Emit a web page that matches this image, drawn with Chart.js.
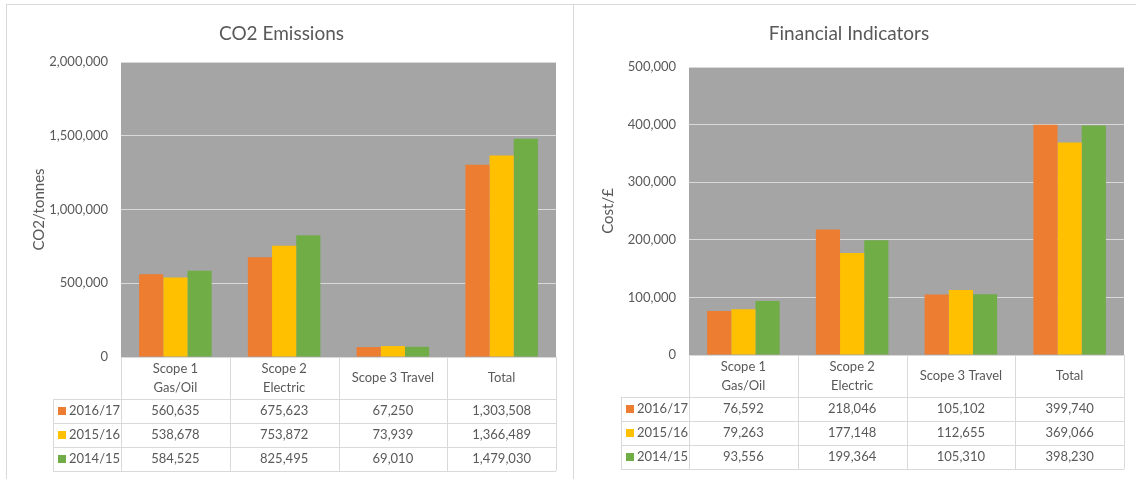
<!DOCTYPE html>
<html>
<head>
<meta charset="utf-8">
<script src="https://cdn.jsdelivr.net/npm/chart.js@4.4.1/dist/chart.umd.min.js"></script>
<style>
  html, body { margin: 0; padding: 0; background: #fff; }
  body { width: 1136px; height: 479px; position: relative; overflow: hidden; }
  .panel { position: absolute; top: 4px; height: 480px; border: 1px solid #d9d9d9; box-sizing: border-box; }
  .wrap { position: absolute; top: 5px; height: 474px; }
</style>
</head>
<body>
<div class="panel" style="left:6px; width:568px;"></div>
<div class="panel" style="left:573px; width:570px;"></div>
<div class="wrap" style="left:7px; width:566px;"><canvas id="co2"></canvas></div>
<div class="wrap" style="left:574px; width:562px;"><canvas id="cost"></canvas></div>

<script>
const categories = [['Scope 1', 'Gas/Oil'], ['Scope 2', 'Electric'], 'Scope 3 Travel', 'Total'];
const years = ['2016/17', '2015/16', '2014/15'];
const yearColors = ['#ED7D31', '#FFC000', '#70AD47'];

// CO2 emissions (tonnes)
const co2_1617 = [560635, 675623, 67250, 1303508];
const co2_1516 = [538678, 753872, 73939, 1366489];
const co2_1415 = [584525, 825495, 69010, 1479030];
const co2Axis = [0, 2000000, 500000]; // min, max, step

// Financial indicators (£)
const cost_1617 = [76592, 218046, 105102, 399740];
const cost_1516 = [79263, 177148, 112655, 369066];
const cost_1415 = [93556, 199364, 105310, 398230];
const costAxis = [0, 500000, 100000];

Chart.defaults.font.family = 'Lato, sans-serif';
Chart.defaults.color = '#595959';

const fmt = (v) => Number(v).toLocaleString('en-US');

// grey plot area like the Excel original
const plotBgPlugin = {
  id: 'plotBg',
  beforeDraw(chart) {
    const { ctx, chartArea: { left, top, width, height } } = chart;
    ctx.save();
    ctx.fillStyle = '#A5A5A5';
    ctx.fillRect(left, top, width, height);
    ctx.restore();
  },
};

// data table under the chart (header + one row per series)
const dataTablePlugin = {
  id: 'dataTable',
  afterDraw(chart, args, opts) {
    const { ctx, chartArea: { left, right, bottom }, scales: { x } } = chart;
    const labels = chart.data.labels;
    const datasets = chart.data.datasets;
    const colW = (right - left) / labels.length;
    const headH = opts.headerHeight;
    const rowH = opts.rowHeight;
    const legL = opts.legendLeft;
    const tableBottom = bottom + headH + rowH * datasets.length;
    const r = (v) => Math.round(v) + 0.5;
    const line = (x1, y1, x2, y2) => { ctx.beginPath(); ctx.moveTo(x1, y1); ctx.lineTo(x2, y2); ctx.stroke(); };

    ctx.save();
    ctx.strokeStyle = '#D9D9D9';
    ctx.lineWidth = 1;
    line(left, r(bottom), right, r(bottom));
    for (let i = 0; i <= datasets.length; i++) {
      const yy = r(bottom + headH + i * rowH);
      line(legL, yy, right, yy);
    }
    for (let i = 0; i <= labels.length; i++) {
      const xx = r(left + i * colW);
      line(xx, bottom, xx, tableBottom);
    }
    line(r(legL), bottom + headH, r(legL), tableBottom);

    ctx.fillStyle = '#595959';
    ctx.font = '13px Lato, sans-serif';
    ctx.textAlign = 'center';
    ctx.textBaseline = 'middle';
    labels.forEach((lab, i) => {
      const cx = x.getPixelForValue(i);
      const lines = Array.isArray(lab) ? lab : [lab];
      const cy = bottom + headH / 2;
      lines.forEach((t, j) => ctx.fillText(t, cx, cy + (j - (lines.length - 1) / 2) * 19));
      datasets.forEach((ds, k) => {
        ctx.fillText(fmt(ds.data[i]), cx, bottom + headH + rowH * k + rowH / 2);
      });
    });

    ctx.textAlign = 'left';
    datasets.forEach((ds, k) => {
      const cy = bottom + headH + rowH * k + rowH / 2;
      ctx.fillStyle = ds.backgroundColor;
      ctx.fillRect(legL + 5, Math.round(cy - 4), 8, 8);
      ctx.fillStyle = '#595959';
      ctx.fillText(ds.label, legL + 16, cy);
    });
    ctx.restore();
  },
};

function renderBarTable(canvasId, title, yTitle, series, axis, lay) {
  const ctx = document.getElementById(canvasId).getContext('2d');
  return new Chart(ctx, {
    type: 'bar',
    plugins: [plotBgPlugin, dataTablePlugin],
    data: {
      labels: categories,
      datasets: series.map((data, i) => ({
        label: years[i],
        data,
        backgroundColor: yearColors[i],
        borderWidth: 0,
        categoryPercentage: 0.667,
        barPercentage: 1.0,
      })),
    },
    options: {
      responsive: true,
      maintainAspectRatio: false,
      animation: false,
      layout: { padding: { left: 0, right: lay.padRight, top: 0, bottom: lay.padBottom } },
      plugins: {
        legend: { display: false },
        tooltip: { enabled: false },
        title: {
          display: true,
          text: title,
          color: '#595959',
          font: { size: 19, weight: 'normal' },
          padding: { top: 17, bottom: lay.titlePadBottom },
        },
        dataTable: { headerHeight: lay.headerHeight, rowHeight: 24, legendLeft: lay.legendLeft },
      },
      scales: {
        x: { display: false },
        y: {
          min: axis[0], max: axis[1],
          afterFit: (scale) => { scale.width = lay.yWidth; },
          border: { display: false },
          grid: { color: '#D9D9D9', lineWidth: 1, drawTicks: false },
          ticks: { stepSize: axis[2], padding: 13, color: '#595959', font: { size: 13 }, callback: (v) => fmt(v) },
          title: { display: true, text: yTitle, color: '#595959', font: { size: 15 }, padding: { top: lay.yTitlePad, bottom: 0 } },
        },
      },
    },
  });
}

renderBarTable('co2', 'CO2 Emissions', 'CO2/tonnes', [co2_1617, co2_1516, co2_1415], co2Axis,
  { padRight: 17, padBottom: 122, titlePadBottom: 17.2, yWidth: 114, yTitlePad: 23, headerHeight: 42, legendLeft: 46 });

renderBarTable('cost', 'Financial Indicators', 'Cost/£', [cost_1617, cost_1516, cost_1415], costAxis,
  { padRight: 12, padBottom: 124, titlePadBottom: 22.2, yWidth: 115, yTitlePad: 25, headerHeight: 42, legendLeft: 47 });
</script>
</body>
</html>
